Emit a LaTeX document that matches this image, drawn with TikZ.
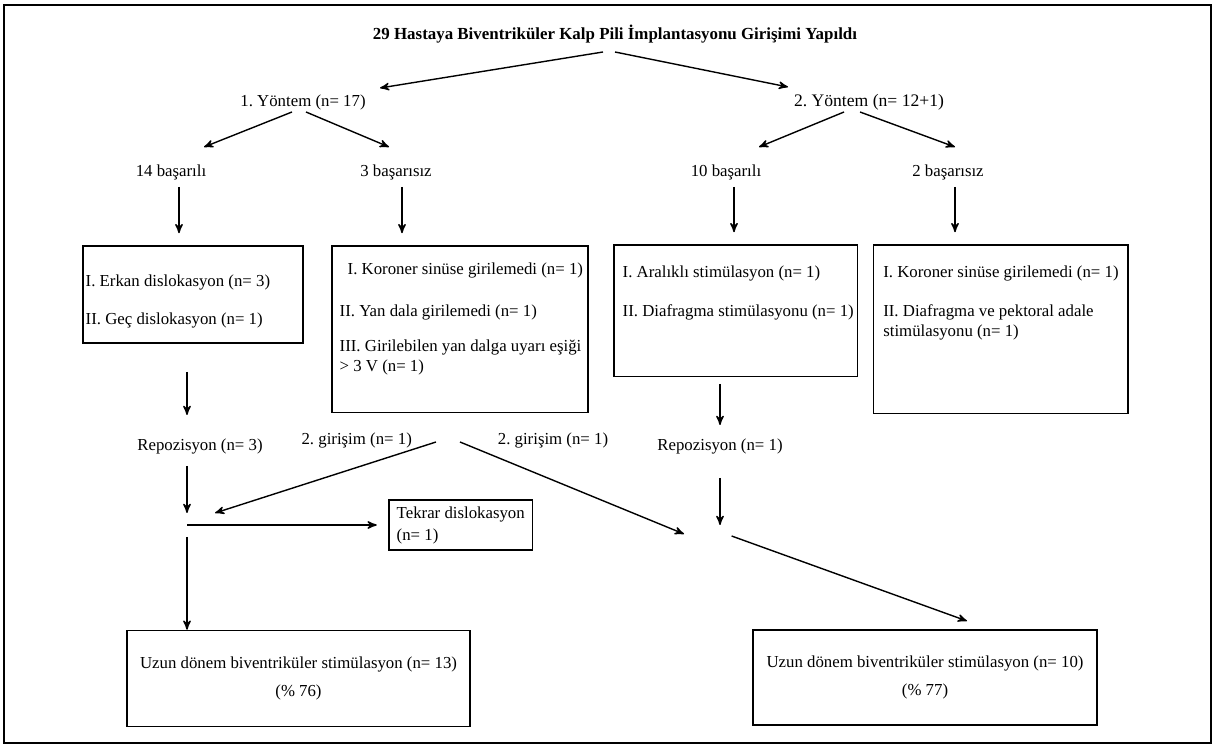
\documentclass[tikz,border=0pt]{standalone}
\usepackage{fontspec}
\setmainfont{Liberation Serif}
\usetikzlibrary{arrows}
\frenchspacing

\begin{document}
\begin{tikzpicture}[->,>=stealth',x=0.5pt,y=-0.5pt,line width=0.7pt,
    lbl/.style={inner sep=0pt,font=\fontsize{8.4}{10}\selectfont},
    txt/.style={lbl,align=left,anchor=north west},
    box/.style={draw,line width=0.75pt,inner sep=0pt,align=center,
                font=\fontsize{8.4}{14}\selectfont}]
%  \tikzstyle{every node}=[font=\small]

  \useasboundingbox (0,0) rectangle (1216,748);
  \draw[-,line width=1pt] (4,5) rectangle (1211,743);

  \node[lbl,font=\bfseries\fontsize{8.45}{10}\selectfont] (title) at (615,34)
       {29 Hastaya Biventriküler Kalp Pili İmplantasyonu Girişimi Yapıldı};
  \node[lbl]                          (y1)  at (303,102) {1. Yöntem (n= 17)};
  \node[lbl,font=\fontsize{8.8}{10}\selectfont] (y2) at (869,102) {2. Yöntem (n= 12+1)};
  \node[lbl]                          (s14) at (171,172) {14 başarılı};
  \node[lbl]                          (f3)  at (396,172) {3 başarısız};
  \node[lbl]                          (s10) at (726,172) {10 başarılı};
  \node[lbl]                          (f2)  at (948,172) {2 başarısız};

  \node[box,minimum width=110pt,minimum height=48.5pt]      (k1) at (193,294.5) {};
  \node[box,minimum width=128pt,minimum height=83.3pt]      (k2) at (460,329.3) {};
  \node[box,minimum width=121.75pt,minimum height=65.85pt]  (k3) at (735.75,310.85) {};
  \node[box,minimum width=127.3pt,minimum height=84.15pt]   (k4) at (1000.7,329.15) {};

  \node[txt] (k1t) at (85,274)
       {I. Erkan dislokasyon (n= 3)\\[9.2pt]II. Geç dislokasyon (n= 1)};
  \node[txt] (k2t) at (339,262.5)
       {\hspace*{4pt}I. Koroner sinüse girilemedi (n= 1)\\[10.8pt]II. Yan dala girilemedi (n= 1)\\[7.5pt]III. Girilebilen yan dalga uyarı eşiği\\> 3 V (n= 1)};
  \node[txt] (k3t) at (622,265)
       {I. Aralıklı stimülasyon (n= 1)\\[9.35pt]II. Diafragma stimülasyonu (n= 1)};
  \node[txt] (k4t) at (882.6,265)
       {I. Koroner sinüse girilemedi (n= 1)\\[9.35pt]II. Diafragma ve pektoral adale\\stimülasyonu (n= 1)};

  \node[lbl]                          (rep3) at (200,446.7) {Repozisyon (n= 3)};
  \node[lbl]                          (g1)   at (356.7,440.7) {2. girişim (n= 1)};
  \node[lbl]                          (g2)   at (553,440.7) {2. girişim (n= 1)};
  \node[lbl]                          (rep1) at (720,446.7) {Repozisyon (n= 1)};

  \node[box,align=left,font=\fontsize{8.4}{11}\selectfont,
        minimum width=71.75pt,minimum height=25pt] (tekrar) at (460.75,525)
       {Tekrar dislokasyon\\(n= 1)};

  \node[box,minimum width=171.5pt,minimum height=48pt] (uz1) at (298.5,678.5)
       {Uzun dönem biventriküler stimülasyon (n= 13)\\(\% 76)};
  \node[box,minimum width=172pt,minimum height=47.5pt] (uz2) at (925,677.5)
       {Uzun dönem biventriküler stimülasyon (n= 10)\\(\% 77)};

  % free ends of the arrows
  \coordinate (tl)   at (603,52);   \coordinate (y1n)  at (380,88);
  \coordinate (tr)   at (615,52);   \coordinate (y2n)  at (788,87);
  \coordinate (y1l)  at (292,112);  \coordinate (s14n) at (204,147);
  \coordinate (y1r)  at (306,112);  \coordinate (f3n)  at (389,147);
  \coordinate (y2l)  at (844,112);  \coordinate (s10n) at (759,147);
  \coordinate (y2r)  at (860,112);  \coordinate (f2n)  at (955,147);
  \coordinate (s14s) at (179,187);  \coordinate (f3s)  at (402,187);
  \coordinate (s10s) at (734,187);  \coordinate (f2s)  at (955,187);
  \coordinate (r3a)  at (187,372);  \coordinate (r3b)  at (187,415);
  \coordinate (r1a)  at (720,384);  \coordinate (r1b)  at (720,425);
  \coordinate (r3c)  at (187,466);  \coordinate (r3d)  at (187,513);
  \coordinate (g1a)  at (436,442);  \coordinate (g1b)  at (215,513);
  \coordinate (g2a)  at (460,442);  \coordinate (g2b)  at (684,534);
  \coordinate (r1c)  at (720,478);  \coordinate (r1d)  at (720,525);
  \coordinate (j1)   at (187,525);  \coordinate (j1b)  at (187,537);
  \coordinate (j2)   at (731.6,536); \coordinate (uz2n) at (967,621);

  \path (tl) edge (y1n)
        (tr) edge (y2n)
        (y1l) edge (s14n)
        (y1r) edge (f3n)
        (y2l) edge (s10n)
        (y2r) edge (f2n)
        (s14s) edge[shorten >=6pt] (s14s |- k1.north)
        (f3s) edge[shorten >=6pt] (f3s |- k2.north)
        (s10s) edge[shorten >=6pt] (s10s |- k3.north)
        (f2s) edge[shorten >=6pt] (f2s |- k4.north)
        (r3a) edge (r3b)
        (r1a) edge (r1b)
        (r3c) edge (r3d)
        (g1a) edge (g1b)
        (j1) edge[shorten >=5.75pt] (tekrar.west)
        (j1b) edge (j1b |- uz1.north)
        (g2a) edge (g2b)
        (r1c) edge (r1d)
        (j2) edge (uz2n);

\end{tikzpicture}
\end{document}
